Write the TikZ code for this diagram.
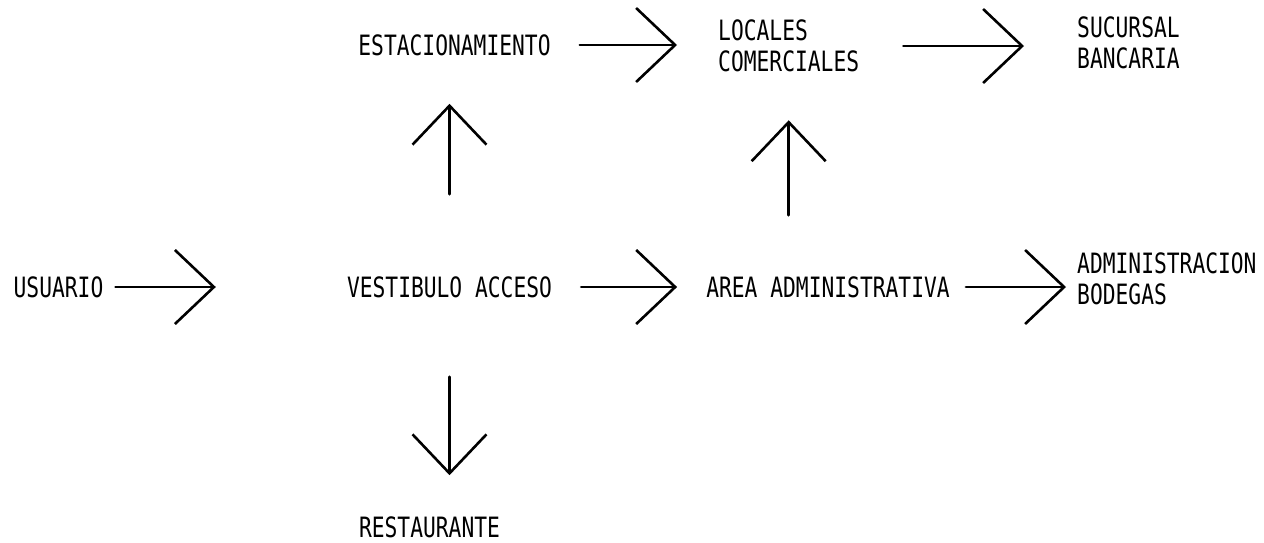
\documentclass[tikz,border=0pt]{standalone}
\usepackage{fontspec}
\newfontfamily\plotfont[FakeStretch=0.76]{DejaVu Sans Mono}
\usetikzlibrary{arrows.meta}

\begin{document}
\begin{tikzpicture}[
  x=1pt,y=-1pt,
  tx/.style={inner sep=0pt,align=left,font=\fontsize{28}{31}\selectfont\plotfont},
  >={Straight Barb[length=39pt,width=74pt]},
  fl/.style={->,line width=2.6pt,line cap=round}
]
\useasboundingbox (0,0) rectangle (1264,542);
% middle row
\node[tx] (usu)  at (58.5,287)  {USUARIO};
\node[tx] (vest) at (449.5,287) {VESTIBULO ACCESO};
\node[tx] (area) at (828,287)   {AREA ADMINISTRATIVA};
\node[tx,anchor=west] (adm) at (1077,279) {ADMINISTRACION\\BODEGAS};
% top row
\node[tx] (est) at (454.5,45) {ESTACIONAMIENTO};
\node[tx,anchor=west] (loc) at (718,46) {LOCALES\\COMERCIALES};
\node[tx,anchor=west] (suc) at (1077,43) {SUCURSAL\\BANCARIA};
% bottom
\node[tx] (rest) at (429.5,527) {RESTAURANTE};
% flows along the rows
\draw[fl,shorten <=12pt,shorten >=131pt] (usu.east) -- (vest.west);
\draw[fl,shorten <=29pt,shorten >=29pt] (vest.east) -- (area.west);
\draw[fl,shorten <=16pt,shorten >=11pt] (area.east) -- (area.east -| adm.west);
\draw[fl,shorten <=29pt,shorten >=41pt] (est.east) -- (est.east -| loc.west);
\draw[fl,shorten <=44pt,shorten >=53pt] (loc.east) -- (loc.east -| suc.west);
% flows up and down
\draw[fl,shorten <=82pt,shorten >=48pt] (vest.north) -- (vest.north |- est.south);
\draw[fl,shorten <=61pt,shorten >=48pt] (area.north -| loc.south) -- (loc.south);
\draw[fl,shorten <=79pt,shorten >=41pt] (vest.south) -- (vest.south |- rest.north);
\end{tikzpicture}
\end{document}
